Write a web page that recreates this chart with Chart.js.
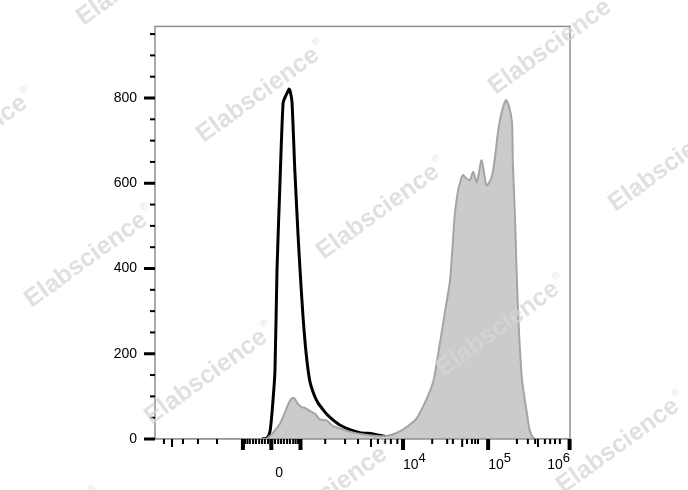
<!DOCTYPE html>
<html><head><meta charset="utf-8">
<script src="https://cdn.jsdelivr.net/npm/chart.js@4.4.0/dist/chart.umd.min.js"></script>
<style>html,body{margin:0;padding:0;background:#fff;}#wrap{width:688px;height:490px;position:relative;}canvas{display:block;}</style>
</head><body><div id="wrap"><canvas id="c" width="688" height="490" style="width:688px;height:490px;"></canvas></div>
<script>
// x values are display channels (0-1024) of the biexponential fluorescence axis
const stainedChannel = [0,264,274,289,299,308,318,328,336,341,345,353,362,370,382,395,407,424,439,456,473,506,547,572,596,621,646,671,687,696,706,716,728,733,740,748,753,757,761,769,777,785,794,806,818,831,839,846,855,866,874,881,883,888,893,898,906,918,925,938,1024];
const stainedCount   = [0,0,0,12,24,35,56,80,94,96,94,82,75,73,66,59,46,43,30,25,19,12,7,7,14,28,49,96,136,184,242,301,372,435,529,584,602,615,619,611,607,627,603,654,595,615,661,718,765,795,779,741,647,529,372,254,136,59,19,0,0];
const controlChannel = [264,276,284,291,296,301,308,316,321,326,331,334,338,345,353,358,365,373,382,392,402,412,424,439,456,481,506,538,563,580,597];
const controlCount   = [0,2,19,89,160,395,591,788,802,812,821,814,791,631,478,395,290,200,136,105,85,72,58,45,33,22,15,12,7,3,0];

// axis ticks (channels) and labels
const xLabelPos  = [287, 612, 822, 1023];
const xLabelBase = ['0', '10', '10', '10'];
const xLabelExp  = ['', '4', '5', '6'];
const xMajorTicks = [217, 287, 359, 612, 822, 1023];
const xMidTicks   = [42, 533, 758, 945];
const xMinorTicks = [22,69,106,153, 222,228,234,242,249,257,264,271,279, 296,304,311,318,326,333,341,347,353, 420,469,501,550,568,582,598, 684,721,735,770,782,790,797, 893,920,938,962,975,987,999];
const yMin = 0, yMax = 968, yMinorStep = 50, yLabelStep = 200;
const watermarkText = 'Elabscience';

const FONT = "'Liberation Sans', Arial, sans-serif";

const decorPlugin = {
  id: 'decor',
  afterDraw(chart) {
    const ctx = chart.ctx, a = chart.chartArea;
    const xs = chart.scales.x, ys = chart.scales.y;
    ctx.save();
    // frame
    ctx.strokeStyle = '#8f8f8f';
    ctx.lineWidth = 1.5;
    ctx.strokeRect(a.left, a.top, a.right - a.left, a.bottom - a.top);
    ctx.fillStyle = '#000';
    // y ticks
    for (let v = yMin; v <= yMax; v += yMinorStep) {
      const py = ys.getPixelForValue(v);
      if (v % yLabelStep === 0) ctx.fillRect(a.left - 11, py - 1.5, 11, 3);
      else ctx.fillRect(a.left - 5, py - 1, 5, 2);
    }
    // x ticks
    xMinorTicks.forEach(c => { const px = xs.getPixelForValue(c); ctx.fillRect(px - 1, a.bottom, 2, 5); });
    xMidTicks.forEach(c => { const px = xs.getPixelForValue(c); ctx.fillRect(px - 1, a.bottom, 2, 8); });
    xMajorTicks.forEach(c => { const px = xs.getPixelForValue(c); ctx.fillRect(px - 2, a.bottom, 4, 11); });
    // x labels
    ctx.textAlign = 'left';
    ctx.textBaseline = 'alphabetic';
    xLabelPos.forEach((c, i) => {
      const px = xs.getPixelForValue(c);
      if (!xLabelExp[i]) {
        ctx.font = '14px ' + FONT;
        ctx.fillText(xLabelBase[i], px + 4, 477);
        return;
      }
      ctx.font = '14px ' + FONT;
      const wb = ctx.measureText(xLabelBase[i]).width;
      ctx.font = '13px ' + FONT;
      const we = ctx.measureText(xLabelExp[i]).width;
      let left = px;
      if (left + wb + we > a.right) left = a.right - wb - we;
      ctx.font = '14px ' + FONT;
      ctx.fillText(xLabelBase[i], left, 469);
      ctx.font = '13px ' + FONT;
      ctx.fillText(xLabelExp[i], left + wb, 462);
    });
    // watermark
    const base = [258, 95], A = [120, 117], B = [172, -165];
    for (let i = -4; i <= 4; i++) for (let j = -3; j <= 3; j++) {
      const cx = base[0] + i * A[0] + j * B[0], cy = base[1] + i * A[1] + j * B[1];
      if (cx < -120 || cx > 810 || cy < -100 || cy > 590) continue;
      ctx.save();
      ctx.translate(cx, cy);
      ctx.rotate(-36 * Math.PI / 180);
      ctx.fillStyle = 'rgba(214,214,214,0.75)';
      ctx.font = 'bold 25px ' + FONT;
      ctx.textAlign = 'center';
      ctx.textBaseline = 'middle';
      const w = ctx.measureText(watermarkText).width;
      ctx.fillText(watermarkText, 0, 0);
      ctx.font = '10px ' + FONT;
      ctx.textAlign = 'left';
      ctx.fillText('®', w / 2 + 2, -9);
      ctx.restore();
    }
    ctx.restore();
  }
};

new Chart(document.getElementById('c'), {
  type: 'line',
  data: {
    datasets: [
      {
        label: 'Stained',
        data: stainedChannel.map((x, i) => ({ x, y: stainedCount[i] })),
        borderColor: '#a4a4a4',
        backgroundColor: '#cbcbcb',
        borderWidth: 2,
        fill: 'origin',
        pointRadius: 0,
        tension: 0.25
      },
      {
        label: 'Control',
        data: controlChannel.map((x, i) => ({ x, y: controlCount[i] })),
        borderColor: '#000000',
        borderWidth: 3,
        fill: false,
        pointRadius: 0,
        tension: 0.25
      }
    ]
  },
  options: {
    responsive: false,
    animation: false,
    devicePixelRatio: 1,
    layout: { padding: { left: 0, top: 26, right: 118, bottom: 0 } },
    plugins: { legend: { display: false }, tooltip: { enabled: false } },
    scales: {
      x: {
        type: 'linear', min: 0, max: 1024,
        grid: { display: false, drawTicks: false },
        border: { display: false },
        ticks: { display: false },
        afterFit(s) { s.height = 51; }
      },
      y: {
        type: 'linear', min: yMin, max: yMax,
        grid: { display: false, drawTicks: false },
        border: { display: false },
        ticks: {
          stepSize: yMinorStep,
          padding: 18,
          color: '#000',
          font: { family: FONT, size: 14 },
          callback: v => (v % yLabelStep === 0 ? String(v) : '')
        },
        afterFit(s) { s.width = 155; }
      }
    }
  },
  plugins: [decorPlugin]
});
</script>
</body></html>
